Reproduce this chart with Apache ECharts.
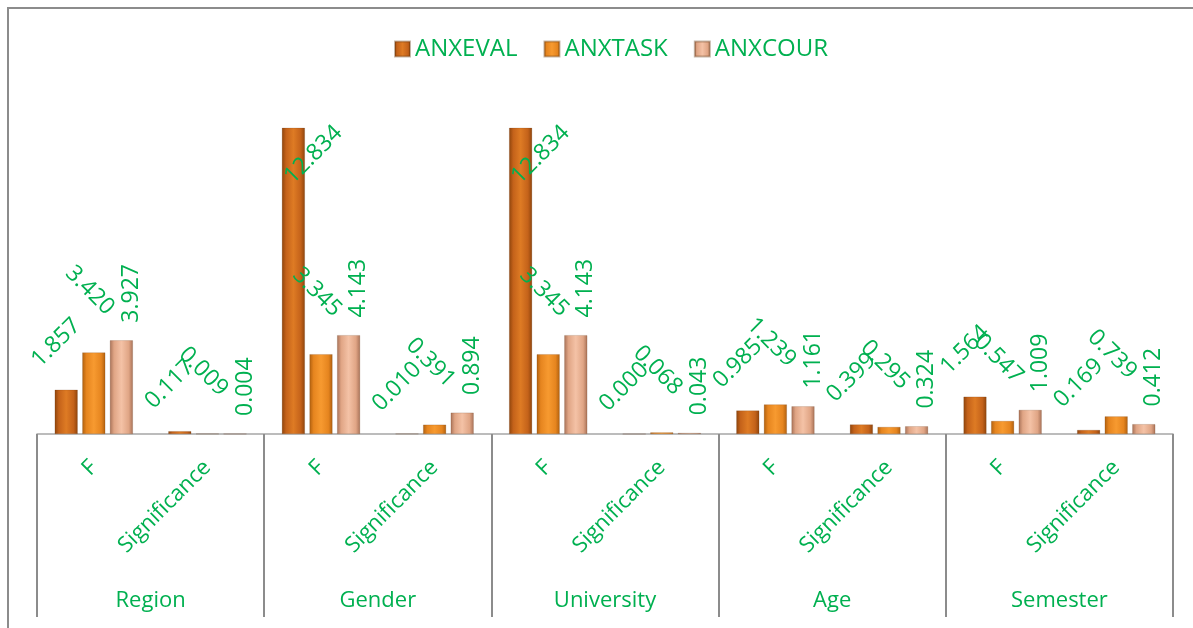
<!DOCTYPE html>
<html>
<head>
<meta charset="utf-8">
<script src="https://cdn.jsdelivr.net/npm/echarts@6/dist/echarts.min.js"></script>
<style>
html,body{margin:0;padding:0;background:#fff;}
#main{width:1193px;height:628px;}
</style>
</head>
<body>
<div id="main"></div>
<script>
const groups = ['Region', 'Gender', 'University', 'Age', 'Semester'];
const subCategories = ['F', 'Significance', 'F', 'Significance', 'F', 'Significance', 'F', 'Significance', 'F', 'Significance'];
const seriesNames = ['ANXEVAL', 'ANXTASK', 'ANXCOUR'];
const anxeval = [1.857, 0.117, 12.834, 0.010, 12.834, 0.000, 0.985, 0.399, 1.564, 0.169];
const anxtask = [3.420, 0.009, 3.345, 0.391, 3.345, 0.068, 1.239, 0.295, 0.547, 0.739];
const anxcour = [3.927, 0.004, 4.143, 0.894, 4.143, 0.043, 1.161, 0.324, 1.009, 0.412];

const GREEN = '#00B050';
const FONT = '"Open Sans", "Noto Sans", sans-serif';

function grad(edge, mid, center) {
  return new echarts.graphic.LinearGradient(0, 0, 1, 0, [
    {offset: 0, color: edge},
    {offset: 0.18, color: mid},
    {offset: 0.5, color: center},
    {offset: 0.82, color: mid},
    {offset: 1, color: edge}
  ]);
}

const colors = [
  grad('#8E440C', '#C4621A', '#DE7B24'),
  grad('#B0600F', '#E6851F', '#F79A30'),
  grad('#A87258', '#E0A585', '#F4C2A6')
];
const rotations = [45, -45, 90];
// label placement: [horizontal shift, distance above bar top]
const labelPlacement = [[-10, 47], [-4, 62], [10, 47]];
const values = [anxeval, anxtask, anxcour];

const chart = echarts.init(document.getElementById('main'), null, {renderer: 'canvas'});

const series = seriesNames.map((name, i) => ({
  name: name,
  type: 'bar',
  xAxisIndex: 0,
  yAxisIndex: 0,
  data: values[i],
  barWidth: 23,
  barGap: '20%',
  itemStyle: {color: colors[i], borderColor: 'rgba(90,45,10,0.35)', borderWidth: 0.5},
  label: {
    show: true,
    position: 'top',
    distance: 47,
    rotate: rotations[i],
    align: 'center',
    verticalAlign: 'middle',
    color: GREEN,
    fontFamily: FONT,
    fontSize: 23,
    formatter: p => Number(p.value).toFixed(3)
  },
  labelLayout: function (params) {
    const r = params.rect;
    if (r.y < 200) {
      return {x: r.x + r.width / 2 + 20, y: r.y + 27, align: 'center', verticalAlign: 'middle'};
    }
    return {
      x: r.x + r.width / 2 + labelPlacement[i][0],
      y: r.y - labelPlacement[i][1],
      align: 'center',
      verticalAlign: 'middle'
    };
  }
}));

chart.setOption({
  backgroundColor: '#ffffff',
  animation: false,
  legend: {
    data: seriesNames,
    left: 389,
    top: 32,
    itemWidth: 15,
    itemHeight: 15,
    itemGap: 26,
    icon: 'rect',
    textStyle: {color: GREEN, fontSize: 24, fontFamily: FONT}
  },
  grid: {left: 37, right: 20, top: 100, bottom: 194, containLabel: false},
  xAxis: [
    {
      type: 'category',
      data: subCategories,
      position: 'bottom',
      axisLine: {show: true, lineStyle: {color: '#A6A6A6', width: 1.5}},
      axisTick: {show: false},
      axisLabel: {
        interval: 0,
        rotate: 45,
        margin: 30,
        color: GREEN,
        fontSize: 22,
        fontFamily: FONT
      }
    },
    {
      type: 'category',
      data: groups,
      position: 'bottom',
      axisLine: {show: false},
      axisTick: {show: true, inside: false, length: 183, lineStyle: {color: '#8C8C8C', width: 2}},
      axisLabel: {
        interval: 0,
        margin: 156,
        color: GREEN,
        fontSize: 22,
        fontFamily: FONT
      }
    }
  ],
  yAxis: {
    type: 'value',
    min: 0,
    max: 14,
    show: false,
    splitLine: {show: false}
  },
  graphic: [
    {
      type: 'rect',
      silent: true,
      shape: {x: 8, y: 8, width: 1300, height: 800},
      style: {fill: 'none', stroke: '#8C8C8C', lineWidth: 2}
    }
  ],
  series: series
});
</script>
</body>
</html>
